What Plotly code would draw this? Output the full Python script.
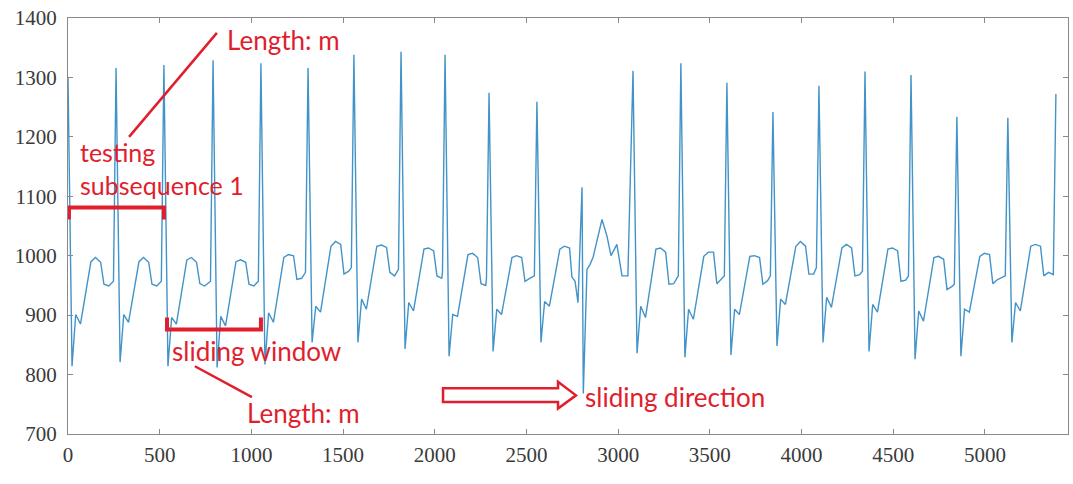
import plotly.graph_objects as go

# ---- data ----
# R-peak sample positions of each beat (the ectopic beat is drawn separately)
beat_r_x = [0, 262, 523, 791, 1052, 1309, 1559, 1816, 2056, 2296, 2557,
            3081, 3342, 3593, 3844, 4095, 4346, 4597, 4847, 5125, 5387]
r_peak   = [1300, 1316, 1321, 1329, 1324, 1316, 1338, 1343, 1338, 1274, 1259,
            1311, 1324, 1291, 1242, 1286, 1310, 1304, 1234, 1232, 1272]
s_trough = [814, 821, 814, 812, 817, 854, 854, 843, 831, 839, 854,
            836, 829, 833, 848, 854, 839, 826, 831, 854]
post_bump = [901, 901, 896, 898, 904, 915, 927, 921, 901, 910, 923,
             915, 910, 910, 927, 930, 918, 907, 910, 921]
post_dip  = [885, 888, 885, 882, 888, 905, 910, 907, 898, 901, 915,
             896, 893, 901, 918, 913, 905, 890, 905, 907]
plat_start = [990, 990, 993, 990, 997, 1016, 1016, 1011, 1002, 997, 1011,
              1011, 999, 999, 1016, 1013, 1011, 997, 999, 1016]
plat_bump  = [997, 997, 997, 993, 1002, 1024, 1018, 1013, 1004, 1000, 1016,
              1013, 1006, 1000, 1024, 1019, 1013, 999, 1004, 1019]
plat_end   = [989, 989, 989, 989, 1000, 1019, 1014, 1008, 997, 997, 1013,
              1006, 1006, 997, 1016, 1013, 1008, 994, 1002, 1016]
drop_lvl   = [952, 952, 953, 952, 960, 969, 972, 966, 953, 957, None,
              952, 953, 952, 969, 966, 957, 943, 953, 966]
tail_lvl   = [949, 949, 949, 949, 962, 974, 966, 962, 950, 962, None,
              953, 962, 958, 969, 968, 959, 948, 960, 972]
pre_r_lvl  = [957, 957, 957, 957, 972, 980, 977, 972, 962, 966, None,
              966, 966, 966, 980, 974, 966, 952, 966, 968]

# sample offsets of the wave features after each R peak
feat_offsets = [22, 42, 68, 125, 150, 178, 196, 222]

# ectopic stretch between the beat at 2557 and the beat at 3081
ect_x = [2748, 2765, 2781, 2803, 2810, 2830, 2846, 2863, 2912, 2939, 2961, 2993, 3021, 3053]
ect_y = [964, 957, 921, 1115, 768, 977, 985, 997, 1061, 1033, 1000, 1019, 966, 966]

x_ticks = [0, 500, 1000, 1500, 2000, 2500, 3000, 3500, 4000, 4500, 5000]
y_ticks = [700, 800, 900, 1000, 1100, 1200, 1300, 1400]

# ---- build the polyline ----
sig_x, sig_y = [], []
for i, r in enumerate(beat_r_x):
    sig_x.append(r); sig_y.append(r_peak[i])
    if i == len(beat_r_x) - 1:
        break
    vals = [s_trough[i], post_bump[i], post_dip[i], plat_start[i], plat_bump[i], plat_end[i]]
    for off, v in zip(feat_offsets[:6], vals):
        sig_x.append(r + off); sig_y.append(v)
    if drop_lvl[i] is None:
        sig_x.extend(ect_x); sig_y.extend(ect_y)
        continue
    sig_x += [r + feat_offsets[6], r + feat_offsets[7], beat_r_x[i + 1] - 14]
    sig_y += [drop_lvl[i], tail_lvl[i], pre_r_lvl[i]]

RED = "#E01E2D"
SERIF = "Liberation Serif"
fig = go.Figure()
fig.add_trace(go.Scatter(x=sig_x, y=sig_y, mode="lines",
                         line=dict(color="#4293c8", width=1.4), showlegend=False,
                         hoverinfo="skip"))

def axis(rng, vals, standoff):
    return dict(range=rng, tickvals=vals, ticktext=[str(v) for v in vals],
                showline=True, linecolor="#8a8a8a", linewidth=1, mirror="ticks",
                ticks="inside", ticklen=5, tickcolor="#8a8a8a", showgrid=False,
                zeroline=False, ticklabelstandoff=standoff,
                tickfont=dict(family=SERIF, size=21, color="#3a3a3a"))

shapes = [
    # testing subsequence bracket
    dict(type="path", path="M 5,1061 L 5,1081 L 523,1081 L 523,1061",
         line=dict(color=RED, width=4)),
    # sliding window bracket
    dict(type="path", path="M 540,896 L 540,876 L 1052,876 L 1052,896",
         line=dict(color=RED, width=4)),
    # leader lines
    dict(type="line", x0=333, y0=1200, x1=812, y1=1375, line=dict(color=RED, width=2.5)),
    dict(type="line", x0=692, y0=814, x1=1003, y1=762, line=dict(color=RED, width=2.5)),
    # hollow arrow
    dict(type="path",
         path="M 2045,777 L 2672,777 L 2672,788 L 2770,765 L 2672,743 L 2672,754 L 2045,754 Z",
         line=dict(color=RED, width=2.5), fillcolor="white"),
]

annots = [
    ("Length: m", 856, 1363, 26),
    ("testing<br>subsequence 1", 55, 1147, 25),
    ("sliding window", 556, 839, 26),
    ("Length: m", 965, 735, 26),
    ("sliding direction", 2808, 763, 26),
]
annotations = [dict(x=ax_, y=ay_, text=txt, showarrow=False, xanchor="left",
                    yanchor="middle", align="left",
                    font=dict(family="Lato", size=fs, color=RED))
               for txt, ax_, ay_, fs in annots]

fig.update_layout(width=1073, height=484, margin=dict(l=68, r=5, t=18, b=50),
                  font=dict(family=SERIF, size=21, color="#3a3a3a"),
                  xaxis=axis([0, 5453], x_ticks, 2), yaxis=axis([700, 1400], y_ticks, 6),
                  shapes=shapes, annotations=annotations,
                  plot_bgcolor="white", paper_bgcolor="white")
fig.write_html("out.html")
